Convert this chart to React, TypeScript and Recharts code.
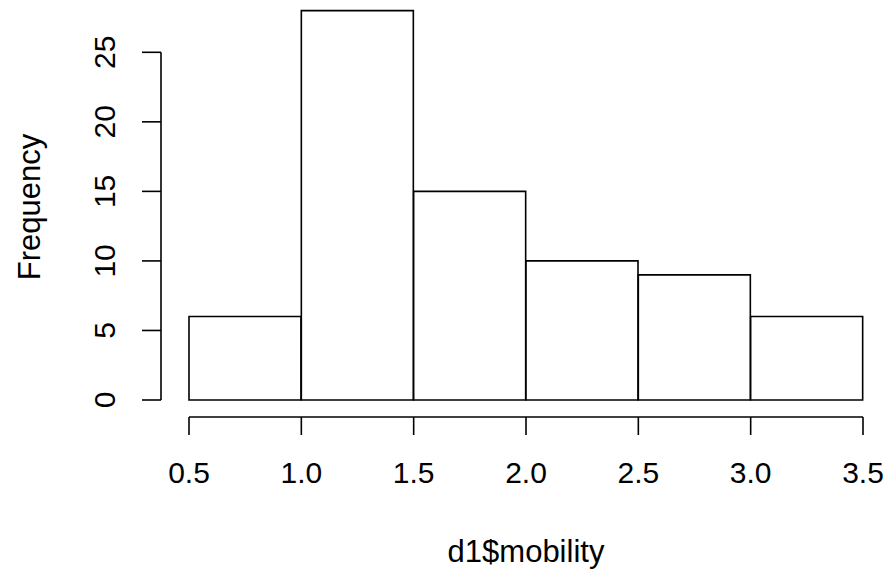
import React from 'react';
import { BarChart, Bar, XAxis, YAxis, ReferenceLine, Label } from 'recharts';

// Histogram of d1$mobility: bin edges and counts per bin
const binEdges = [0.5, 1.0, 1.5, 2.0, 2.5, 3.0, 3.5];
const frequencies = [6, 28, 15, 10, 9, 6];
const xTicks = [0.5, 1.0, 1.5, 2.0, 2.5, 3.0, 3.5];
const yTicks = [0, 5, 10, 15, 20, 25];
const xTitle = 'd1$mobility';
const yTitle = 'Frequency';

const data = frequencies.map((count, i) => ({
  mid: (binEdges[i] + binEdges[i + 1]) / 2,
  count,
}));

// Layout (pixels)
const WIDTH = 891;
const HEIGHT = 576;
const PLOT_LEFT = 161; // where the y axis line sits
const PLOT_BOTTOM = 417; // where the x axis line sits
const X_GAP = 28; // space between the y axis line and the first/last bin edge
const Y_ZERO = 400; // pixel row of frequency 0
const PX_PER_COUNT = 13.908;

const FONT = '"Liberation Sans", Arial, sans-serif';
const INK = '#000';
const LINE_W = 1.6;

const xMin = binEdges[0];
const xMax = binEdges[binEdges.length - 1];
const pxPerUnit = (WIDTH - PLOT_LEFT - 2 * X_GAP) / (xMax - xMin);
const xPad = X_GAP / pxPerUnit;
const xDomain: [number, number] = [xMin - xPad, xMax + xPad];

const yDomain: [number, number] = [-(PLOT_BOTTOM - Y_ZERO) / PX_PER_COUNT, Y_ZERO / PX_PER_COUNT];

const RotatedTick = (props: any) => {
  const { x, y, payload } = props;
  return (
    <text
      x={x}
      y={y}
      transform={`rotate(-90 ${x} ${y})`}
      textAnchor="middle"
      fill={INK}
      fontSize={30}
      fontFamily={FONT}
    >
      {payload.value}
    </text>
  );
};

export default function App() {
  return (
    <div style={{ position: 'absolute', left: 0, top: 0, background: '#fff' }}>
      <BarChart
        width={WIDTH}
        height={HEIGHT}
        data={data}
        margin={{ top: 0, right: 0, bottom: 0, left: 0 }}
        barCategoryGap={0}
        barGap={0}
      >
        <XAxis
          type="number"
          dataKey="mid"
          domain={xDomain}
          ticks={xTicks}
          interval={0}
          allowDataOverflow
          tickFormatter={(v: number) => v.toFixed(1)}
          axisLine={false}
          tickLine={{ stroke: INK, strokeWidth: LINE_W }}
          tickSize={18}
          tickMargin={27}
          height={HEIGHT - PLOT_BOTTOM}
          tick={{ fill: INK, fontSize: 30, fontFamily: FONT }}
        >
          <Label
            value={xTitle}
            position="insideBottom"
            offset={14}
            fill={INK}
            fontSize={31}
            fontFamily={FONT}
          />
        </XAxis>
        <YAxis
          type="number"
          domain={yDomain}
          ticks={yTicks}
          interval={0}
          allowDataOverflow
          axisLine={false}
          tickLine={{ stroke: INK, strokeWidth: LINE_W }}
          tickSize={19}
          tickMargin={27}
          width={PLOT_LEFT}
          tick={(p: any) => <RotatedTick {...p} />}
        >
          <Label
            content={() => (
              <text
                x={40}
                y={207}
                transform="rotate(-90 40 207)"
                textAnchor="middle"
                fill={INK}
                fontSize={31}
                fontFamily={FONT}
              >
                {yTitle}
              </text>
            )}
          />
        </YAxis>
        <Bar
          dataKey="count"
          fill="#fff"
          stroke={INK}
          strokeWidth={LINE_W}
          isAnimationActive={false}
        />
        <ReferenceLine
          segment={[
            { x: xTicks[0], y: yDomain[0] },
            { x: xTicks[xTicks.length - 1], y: yDomain[0] },
          ]}
          stroke={INK}
          strokeWidth={LINE_W}
          ifOverflow="visible"
        />
        <ReferenceLine
          segment={[
            { x: xDomain[0], y: yTicks[0] },
            { x: xDomain[0], y: yTicks[yTicks.length - 1] },
          ]}
          stroke={INK}
          strokeWidth={LINE_W}
          ifOverflow="visible"
        />
      </BarChart>
    </div>
  );
}
